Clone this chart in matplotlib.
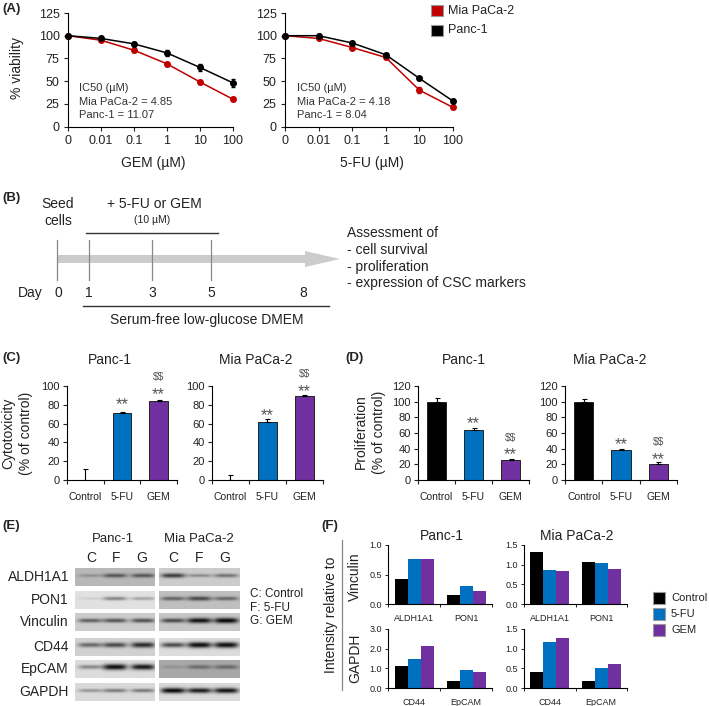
import numpy as np
import matplotlib
matplotlib.use("Agg")
import matplotlib.pyplot as plt
from matplotlib.patches import Rectangle, Polygon

plt.rcParams['font.family'] = ['Liberation Sans', 'DejaVu Sans']
plt.rcParams['font.size'] = 9
plt.rcParams['text.color'] = '#222222'
plt.rcParams['axes.labelcolor'] = '#222222'
plt.rcParams['xtick.color'] = '#222222'
plt.rcParams['ytick.color'] = '#222222'

W, H = 709, 706
RED, BLACK, BLUE, PURPLE = '#C00000', '#000000', '#0070C0', '#7030A0'

# panel A
doses = ['0', '0.01', '0.1', '1', '10', '100']
gem_mia = [100, 95, 84, 69, 49, 30]
gem_panc = [100, 97, 91, 81, 65, 48]
gem_mia_err = [1, 1, 2, 2, 2, 2]
gem_panc_err = [1, 2, 2, 3, 4, 4]
fu_mia = [100, 97, 87, 76, 40, 21]
fu_panc = [100, 100, 92, 79, 53, 28]
fu_mia_err = [1, 2, 2, 2, 3, 2]
fu_panc_err = [1, 2, 2, 2, 2, 2]

# panels C and D
treat = ['Control', '5-FU', 'GEM']
treat_colors = [BLACK, BLUE, PURPLE]
cyto_panc = [0, 71, 84]
cyto_panc_err = [12, 1.5, 1]
cyto_mia = [0, 62, 89]
cyto_mia_err = [5, 3, 1]
prolif_panc = [100, 64, 26]
prolif_panc_err = [5, 2, 1]
prolif_mia = [100, 38, 21]
prolif_mia_err = [4, 1, 2]

# panel B
days = [0, 1, 3, 5, 8]
day_x = [58, 89, 152, 211, 303]

# panel E, band strength per lane C F G
blot_names = ['ALDH1A1', 'PON1', 'Vinculin', 'CD44', 'EpCAM', 'GAPDH']
blot_y = [568, 591, 613, 638, 660, 683]
blot_panc = [[.22, .55, .55], [.08, .42, .28], [.55, .60, .62],
             [.55, .70, .85], [.42, 1.0, .95], [.32, .45, .45]]
blot_mia = [[.72, .32, .45], [.50, .65, .48], [.65, .95, 1.0],
            [.70, 1.0, 1.0], [.15, .40, .42], [1.0, .90, .95]]
blot_bg_panc = [.72, .88, .80, .82, .86, .85]
blot_bg_mia = [.80, .75, .78, .86, .66, .85]

# panel F
f_top_cats = ['ALDH1A1', 'PON1']
f_bot_cats = ['CD44', 'EpCAM']
f_panc_top = [[.42, .16], [.76, .31], [.77, .22]]
f_mia_top = [[1.31, 1.07], [.86, 1.03], [.83, .89]]
f_panc_bot = [[1.12, .38], [1.50, .90], [2.13, .80]]
f_mia_bot = [[.41, .18], [1.18, .50], [1.28, .60]]

fig = plt.figure(figsize=(W / 100, H / 100), dpi=100)
# overlay in pixel coordinates for labels and the timeline
ov = fig.add_axes([0, 0, 1, 1], zorder=5)
ov.set_xlim(0, W)
ov.set_ylim(H, 0)
ov.axis('off')


def box(x0, y0, x1, y1):
    return fig.add_axes([x0 / W, 1 - y1 / H, (x1 - x0) / W, (y1 - y0) / H])


def clean(ax):
    ax.spines['top'].set_visible(False)
    ax.spines['right'].set_visible(False)
    ax.patch.set_alpha(0)


def txt(x, y, s, size=9, ha='center', **kw):
    ov.text(x, y, s, fontsize=size, ha=ha, va='center', parse_math=False, **kw)


def viability(x0, x1, mia, mia_err, panc, panc_err):
    ax = box(x0, 13, x1, 126.5)
    clean(ax)
    pos = np.arange(len(doses))
    ax.errorbar(pos, mia, yerr=mia_err, color=RED, marker='o', ms=4, lw=1.1, capsize=1.5, clip_on=False, zorder=3)
    ax.errorbar(pos, panc, yerr=panc_err, color=BLACK, marker='o', ms=4, lw=1.1, capsize=1.5, clip_on=False, zorder=4)
    ax.set_xlim(0, 5)
    ax.set_ylim(0, 125)
    ax.set_xticks(pos)
    ax.set_xticklabels(doses, fontsize=9)
    ax.set_yticks([0, 25, 50, 75, 100, 125])
    ax.tick_params(length=3, width=.8, labelsize=9, pad=3)
    return ax


viability(68, 233, gem_mia, gem_mia_err, gem_panc, gem_panc_err)
viability(285, 453, fu_mia, fu_mia_err, fu_panc, fu_panc_err)
txt(153, 163, 'GEM (µM)', size=10)
txt(372, 163, '5-FU (µM)', size=10)
txt(17, 68, '% viability', size=10, rotation=90)

for x0, ic in [(79, ['IC50 (µM)', 'Mia PaCa-2 = 4.85', 'Panc-1 = 11.07']),
               (297, ['IC50 (µM)', 'Mia PaCa-2 = 4.18', 'Panc-1 = 8.04'])]:
    for y, s in zip([88, 102, 115], ic):
        txt(x0, y, s, size=8, ha='left', color='#333333')

for y, c, s in [(10.5, RED, 'Mia PaCa-2'), (30, BLACK, 'Panc-1')]:
    ov.add_patch(Rectangle((431, y - 5.5), 12, 11, fc=c, ec='#999999', lw=.8))
    txt(448, y, s, ha='left')

# panel letters
for x, y, s in [(2, 9, '(A)'), (2, 198, '(B)'), (2, 358, '(C)'), (345, 358, '(D)'), (2, 526, '(E)'), (321, 526, '(F)')]:
    txt(x, y, s, size=9.5, ha='left', fontweight='bold')

# panel B timeline
ov.add_patch(Polygon([(58, 255), (305, 255), (305, 251), (340, 259), (305, 267), (305, 263), (58, 263)],
                     fc='#CCCCCC', ec='none'))
for d, x in zip(days, day_x):
    txt(x, 293, str(d), size=10)
    if d != 8:
        ov.plot([x - 1 if d == 0 else x, x - 1 if d == 0 else x], [240, 280], color='#888888', lw=.9)
txt(30, 293, 'Day', size=10)
ov.plot([86, 218], [233, 233], color='#333333', lw=1)
ov.plot([83, 329], [306, 306], color='#333333', lw=1)
txt(58, 204, 'Seed', size=10)
txt(58, 221, 'cells', size=10)
txt(154, 204, '+ 5-FU or GEM', size=10)
txt(152, 220, '(10 µM)', size=7.5)
txt(207, 320, 'Serum-free low-glucose DMEM', size=10)
for y, s in zip([233, 250, 267, 283],
                ['Assessment of', '- cell survival', '- proliferation', '- expression of CSC markers']):
    txt(347, y, s, size=10, ha='left')


def bars(x0, x1, vals, errs, ymax, step, title, title_x, stars, dollars):
    ax = box(x0, 386, x1, 480)
    clean(ax)
    pos = np.arange(3)
    ax.bar(pos, vals, width=.51, color=treat_colors, edgecolor='#222222', lw=.7)
    for p, v, e in zip(pos, vals, errs):
        ax.errorbar(p, v, yerr=[[0], [e]], color='black', lw=.8, capsize=1.8, capthick=.8)
    ax.set_xlim(-.5, 2.5)
    ax.set_ylim(0, ymax)
    ax.set_yticks(np.arange(0, ymax + 1, step))
    ax.set_xticks(pos)
    ax.set_xticklabels(treat, fontsize=7.5)
    ax.tick_params(axis='x', length=0, pad=9)
    ax.tick_params(axis='y', length=3, width=.8, labelsize=8, pad=2)
    ax.set_xticks([-.5, .5, 1.5, 2.5], minor=True)
    ax.tick_params(axis='x', which='minor', length=3, width=.8)
    for p, y in stars:
        txt(x0 + (x1 - x0) * (p + .5) / 3, y + 3, '**', size=12, color='#555555')
    for p, y in dollars:
        txt(x0 + (x1 - x0) * (p + .5) / 3, y, '$$', size=7.5, color='#555555')
    txt(title_x, 360, title, size=10)


bars(67, 177, cyto_panc, cyto_panc_err, 100, 20, 'Panc-1', 110, [(1, 402), (2, 392)], [(2, 377)])
bars(212, 323, cyto_mia, cyto_mia_err, 100, 20, 'Mia PaCa-2', 256, [(1, 413), (2, 389)], [(2, 374)])
bars(418, 529, prolif_panc, prolif_panc_err, 120, 20, 'Panc-1', 464, [(1, 421), (2, 452)], [(2, 438)])
bars(565, 677, prolif_mia, prolif_mia_err, 120, 20, 'Mia PaCa-2', 610, [(1, 442), (2, 457)], [(2, 442)])
txt(8, 433, 'Cytotoxicity', size=10, rotation=90)
txt(26, 433, '(% of control)', size=10, rotation=90)
txt(361, 432, 'Proliferation', size=10, rotation=90)
txt(379, 432, '(% of control)', size=10, rotation=90)


# panel E blots
def blot(x0, x1, y0, strength, bg, centers):
    w, h = x1 - x0, 18
    xx = np.arange(w) + .5
    yy = np.arange(h) + .5
    img = np.full((h, w), float(bg))
    for c, s in zip(centers, strength):
        prof_x = np.exp(-((xx - c * w) / 12) ** 4)
        prof_y = np.exp(-((yy - h * .42) / (1.3 + 1.4 * s)) ** 2)
        img -= bg * .95 * s * np.outer(prof_y, prof_x)
    a = box(x0, y0, x1, y0 + h)
    a.imshow(img, cmap='gray', vmin=0, vmax=1, aspect='auto', interpolation='bilinear')
    a.axis('off')


for name, y, sp, sm, bp, bm in zip(blot_names, blot_y, blot_panc, blot_mia, blot_bg_panc, blot_bg_mia):
    blot(75, 155, y, sp, bp, [.19, .5, .85])
    blot(159, 239, y, sm, bm, [.175, .5, .83])
    txt(69, y + 9, name, size=10, ha='right')
txt(113, 539, 'Panc-1', size=9.5)
txt(199, 539, 'Mia PaCa-2', size=9.5)
for x, s in zip([91, 116, 142, 173, 199, 225], 'CFGCFG'):
    txt(x, 558, s, size=10)
for y, s in zip([594, 608, 621], ['C: Control', 'F: 5-FU', 'G: GEM']):
    txt(250, y, s, size=8.5, ha='left')


# panel F
def fbars(x0, x1, y0, y1, vals, cats, ymax, step):
    ax = box(x0, y0, x1, y1)
    clean(ax)
    pos = np.arange(2)
    for i, (v, c) in enumerate(zip(vals, treat_colors)):
        ax.bar(pos + (i - 1) * .25, v, width=.25, color=c)
    ax.set_xlim(-.5, 1.5)
    ax.set_ylim(0, ymax)
    ax.set_yticks(np.arange(0, ymax + .01, step))
    ax.yaxis.set_major_formatter('{x:.1f}')
    ax.set_xticks(pos)
    ax.set_xticklabels(cats, fontsize=6.5)
    ax.tick_params(axis='x', length=0, pad=7)
    ax.tick_params(axis='y', length=2.5, width=.7, labelsize=6.5, pad=2)
    ax.set_xticks([-.5, .5, 1.5], minor=True)
    ax.tick_params(axis='x', which='minor', length=2.5, width=.7)


fbars(388, 492, 545, 604, f_panc_top, f_top_cats, 1.0, .5)
fbars(524, 627, 545, 604, f_mia_top, f_top_cats, 1.5, .5)
fbars(388, 492, 629, 688, f_panc_bot, f_bot_cats, 3.0, 1.0)
fbars(524, 627, 629, 688, f_mia_bot, f_bot_cats, 1.5, .5)
txt(442, 536, 'Panc-1', size=10)
txt(577, 536, 'Mia PaCa-2', size=10)
txt(331, 615, 'Intensity relative to', size=10, rotation=90)
txt(355, 577, 'Vinculin', size=10, rotation=90)
txt(355, 658, 'GAPDH', size=10, rotation=90)
ov.plot([342, 342], [540, 690], color='#888888', lw=.9)
for y, c, s in zip([598, 614, 630], treat_colors, treat):
    ov.add_patch(Rectangle((653, y - 6), 12, 12, fc=c, ec='#999999', lw=.8))
    txt(671, y, s, size=8, ha='left')

fig.savefig('out.png', dpi=100)
